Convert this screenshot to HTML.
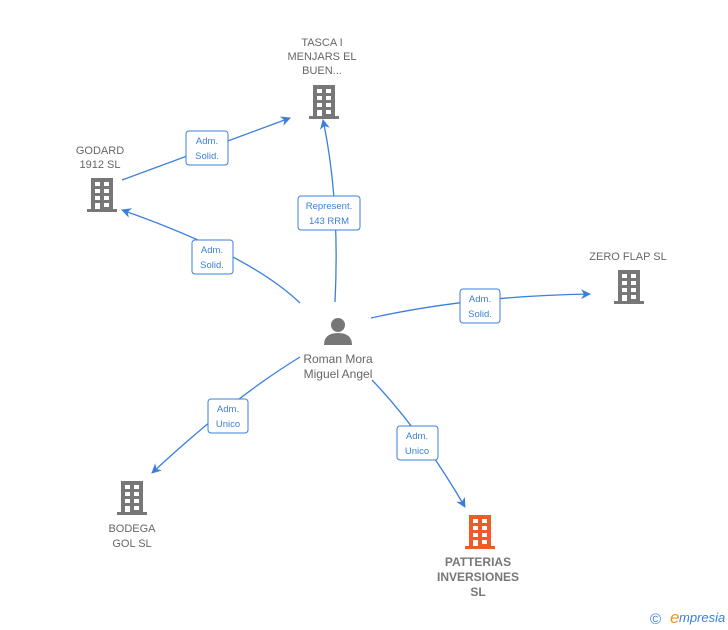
<!DOCTYPE html>
<html><head><meta charset="utf-8"><style>
html,body{margin:0;padding:0;background:#fff;width:728px;height:630px;overflow:hidden}
text{font-family:"Liberation Sans",sans-serif}
</style></head><body>
<svg width="728" height="630" viewBox="0 0 728 630" xmlns="http://www.w3.org/2000/svg">
<defs>
<symbol id="b" viewBox="0 0 30 34">
<rect x="4" y="0" width="22" height="32"/>
<rect x="0" y="31" width="30" height="3"/>
<g fill="#fff">
<rect x="8" y="4" width="5" height="4"/><rect x="17" y="4" width="5" height="4"/>
<rect x="8" y="11" width="5" height="4"/><rect x="17" y="11" width="5" height="4"/>
<rect x="8" y="18" width="5" height="4"/><rect x="17" y="18" width="5" height="4"/>
<rect x="8" y="25" width="5" height="6"/><rect x="17" y="25" width="5" height="4"/>
</g>
</symbol>
<marker id="a" markerWidth="10" markerHeight="10" refX="9" refY="5" orient="auto" markerUnits="userSpaceOnUse">
<path d="M0,0 L10,5 L0,10 L3,5 z" fill="#3b7fdd"/>
</marker>
</defs>
<g stroke="#3b7fdd" stroke-width="1.3" fill="none" marker-end="url(#a)">
<path d="M335,302 Q340,200 323,120"/>
<path d="M122,180 L290,118"/>
<path d="M300,303 Q250,255 122,210"/>
<path d="M371,318 Q470,296 590,294"/>
<path d="M300,357 Q230,400 152,473"/>
<path d="M372,380 Q420,430 465,507"/>
</g>
<g fill="#fff" stroke="#3b7fdd" stroke-width="1">
<rect x="298" y="196" width="62" height="34" rx="3"/>
<rect x="186" y="131" width="42" height="34" rx="3"/>
<rect x="192" y="240" width="41" height="34" rx="3"/>
<rect x="460" y="289" width="40" height="34" rx="3"/>
<rect x="208" y="399" width="40" height="34" rx="3"/>
<rect x="397" y="426" width="41" height="34" rx="3"/>
</g>
<g fill="#3b7fdd" font-size="9.5" text-anchor="middle">
<text x="329" y="209">Represent.</text><text x="329" y="224">143 RRM</text>
<text x="207" y="144">Adm.</text><text x="207" y="159">Solid.</text>
<text x="212" y="253">Adm.</text><text x="212" y="268">Solid.</text>
<text x="480" y="302">Adm.</text><text x="480" y="317">Solid.</text>
<text x="228" y="412">Adm.</text><text x="228" y="427">Unico</text>
<text x="417" y="439">Adm.</text><text x="417" y="454">Unico</text>
</g>
<g fill="#777">
<use href="#b" x="309" y="85" width="30" height="34"/>
<use href="#b" x="87" y="178" width="30" height="34"/>
<use href="#b" x="614" y="270" width="30" height="34"/>
<use href="#b" x="117" y="481" width="30" height="34"/>
</g>
<use href="#b" x="465" y="515" width="30" height="34" fill="#f05a2a"/>
<g fill="#777">
<circle cx="338" cy="325" r="7"/>
<path d="M324,345 Q324,333 338,333 Q352,333 352,345 z"/>
</g>
<g fill="#666" font-size="11" text-anchor="middle">
<text x="322" y="46">TASCA I</text><text x="322" y="60">MENJARS EL</text><text x="322" y="74">BUEN...</text>
<text x="100" y="154">GODARD</text><text x="100" y="168">1912  SL</text>
<text x="628" y="260">ZERO FLAP  SL</text>
<text x="132" y="532">BODEGA</text><text x="132" y="547">GOL  SL</text>
<text x="338" y="363" font-size="12">Roman Mora</text><text x="338" y="378" font-size="12">Miguel Angel</text>
</g>
<g fill="#777" font-size="12" font-weight="bold" text-anchor="middle">
<text x="478" y="566">PATTERIAS</text><text x="478" y="581">INVERSIONES</text><text x="478" y="596">SL</text>
</g>
<text x="650" y="624" font-size="15" fill="#3b7fdd">©</text>
<text x="670" y="623" font-size="17" fill="#f7941d" font-style="italic" font-family="Liberation Serif,serif">e</text>
<text x="679" y="622" font-size="13" fill="#3b7fdd" font-style="italic">mpresia</text>
</svg>
</body></html>
